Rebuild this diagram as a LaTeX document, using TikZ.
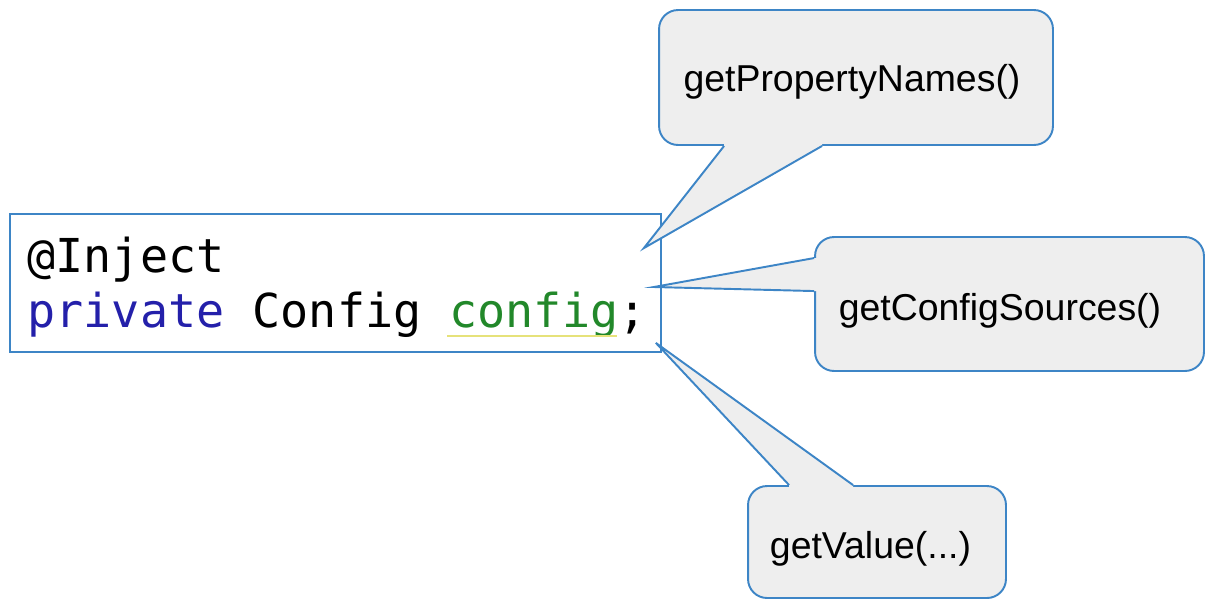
\documentclass[tikz,border=0pt]{standalone}
\usepackage{fontspec}
\setmainfont{Liberation Sans}
\setmonofont{DejaVu Sans Mono}
\usetikzlibrary{calc}
\definecolor{gdblue}{HTML}{3D85C6}
\definecolor{gdgrey}{HTML}{EEEEEE}
\definecolor{kwblue}{HTML}{2420AA}
\definecolor{fieldgreen}{HTML}{22882A}
\definecolor{warnyellow}{HTML}{E6E27A}
\tikzset{
  codebox/.style={draw=gdblue, line width=1pt, minimum width=13.02cm, minimum height=2.76cm, inner sep=0},
  codeline/.style={anchor=base west, inner sep=0, font=\ttfamily\fontsize{26.6}{31}\selectfont},
  bubble/.style={draw=gdblue, fill=gdgrey, line width=1.1pt, rounded corners=0.38cm, inner sep=0},
  bubbletext/.style={inner sep=0, font=\fontsize{21.3}{25}\selectfont},
  pointer/.style={draw=gdblue, line width=1.1pt},
}
\begin{document}
\begin{tikzpicture}[x=0.02cm, y=-0.02cm]
    \useasboundingbox (0,0) rectangle (1206,600);
    % Code snippet:
    \node[codebox] (code) at (335.5,283) {};
    \node[codeline] (inject) at ($(code.north west)+(18,59)$) {@Inject};
    \node[codeline] (field) at ($(code.north west)+(18,114)$) {\textcolor{kwblue}{private} Config \textcolor{fieldgreen}{config};};
    \draw[warnyellow, line width=0.8pt] ($(field.base west)+(420,9)$) -- ($(field.base west)+(590,9)$);
    % Callouts:
    \node[bubble, minimum width=7.88cm, minimum height=2.7cm] (names) at (856,77.5) {};
    \node[bubble, minimum width=7.78cm, minimum height=2.68cm] (sources) at (1009.5,304) {};
    \node[bubble, minimum width=5.16cm, minimum height=2.24cm] (value) at (877,542) {};
    \coordinate (namesTip) at ($(code.north east)+(-18,35)$);
    \coordinate (sourcesTip) at ($(code.east)+(-8,4)$);
    \coordinate (valueTip) at ($(code.south east)+(-6,-10)$);
    % Pointers:
    \fill[gdgrey] ($(names.south west)+(66,-4)$) -- ($(names.south west)+(66,0)$) -- (namesTip) -- ($(names.south west)+(164,0)$) -- ($(names.south west)+(164,-4)$) -- cycle;
    \draw[pointer] ($(names.south west)+(66,0)$) -- (namesTip) -- ($(names.south west)+(164,0)$);
    \fill[gdgrey] ($(sources.north west)+(4,22)$) -- ($(sources.north west)+(0,22)$) -- (sourcesTip) -- ($(sources.north west)+(0,55)$) -- ($(sources.north west)+(4,55)$) -- cycle;
    \draw[pointer] ($(sources.north west)+(0,22)$) -- (sourcesTip) -- ($(sources.north west)+(0,55)$);
    \fill[gdgrey] ($(value.north west)+(42,4)$) -- ($(value.north west)+(42,0)$) -- (valueTip) -- ($(value.north west)+(106,0)$) -- ($(value.north west)+(106,4)$) -- cycle;
    \draw[pointer] ($(value.north west)+(42,0)$) -- (valueTip) -- ($(value.north west)+(106,0)$);
    % Callout texts:
    \node[bubbletext] (namesText) at ($(names.center)+(-4,4)$) {getPropertyNames()};
    \node[bubbletext] (sourcesText) at ($(sources.center)+(-9.5,7)$) {getConfigSources()};
    \node[bubbletext] (valueText) at ($(value.center)+(-6.5,7)$) {getValue(...)};
\end{tikzpicture}
\end{document}
